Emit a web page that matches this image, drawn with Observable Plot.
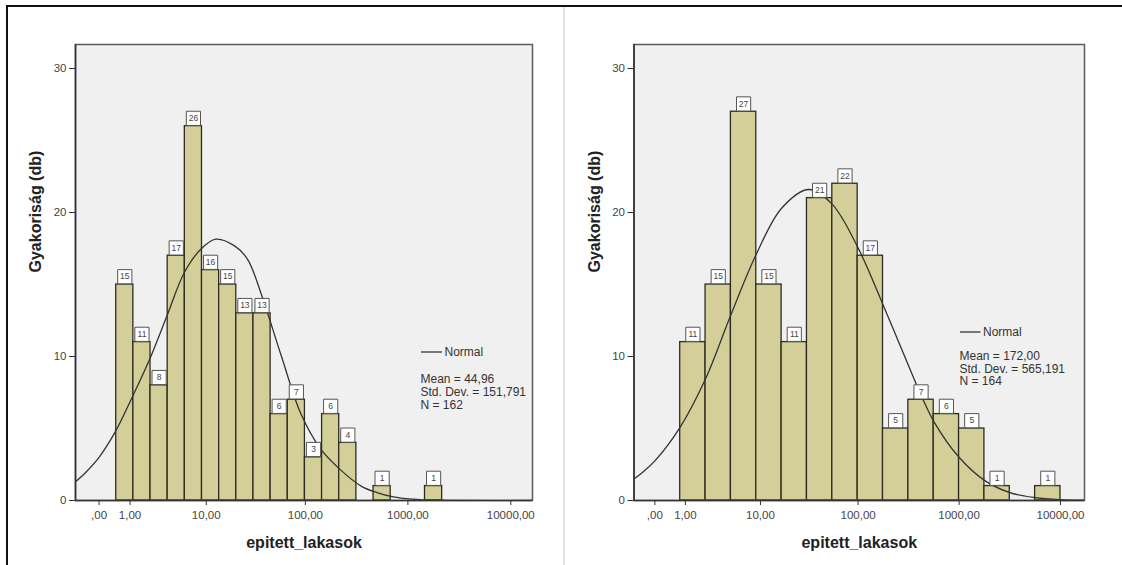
<!DOCTYPE html>
<html>
<head>
<meta charset="utf-8">
<script src="https://cdn.jsdelivr.net/npm/d3@7"></script>
<script src="https://cdn.jsdelivr.net/npm/@observablehq/plot@0.6"></script>
<style>
  html, body { margin: 0; padding: 0; background: #fff; }
  #wrap { position: relative; width: 1122px; height: 565px; overflow: hidden; font-family: "Liberation Sans", Arial, sans-serif; }
  .panel { position: absolute; top: 0; }
  #left { left: 0; }
  #right { left: 563px; }
  .btop { position: absolute; left: 6px; top: 5px; width: 1116px; height: 2px; background: #111; }
  .bleft { position: absolute; left: 6px; top: 5px; width: 2px; height: 560px; background: #111; }
  .sep { position: absolute; left: 563px; top: 7px; width: 2px; height: 558px; background: #e2e2e2; }
</style>
</head>
<body>
<div id="wrap">
  <div class="panel" id="left"></div>
  <div class="panel" id="right"></div>
  <div class="btop"></div>
  <div class="bleft"></div>
  <div class="sep"></div>
</div>
<script>
// ---- shared axis data ----
const xTickValues = [0, 1, 10, 100, 1000, 10000];
const xTickLabels = [",00", "1,00", "10,00", "100,00", "1000,00", "10000,00"];
const yTickValues = [0, 10, 20, 30];
const xTitle = "epitett_lakasok";
const yTitle = "Gyakoriság (db)";
const legendLabel = "Normal";

// ---- left histogram ----
const leftBinEdges = [0.468, 1.154, 2.162, 3.642, 5.813, 9, 13.68, 20.54, 30.62, 45.42, 67.13, 99, 145.8, 214.4, 315.2, 463.2, 680.3, 999, 1466.8, 2153.4];
const leftCounts = [15, 11, 8, 17, 26, 16, 15, 13, 13, 6, 7, 3, 6, 4, 0, 1, 0, 0, 1];
const leftCurveX = [-0.694, -0.35, 0, 0.445, 1.028, 2.055, 3.613, 5.70, 8.73, 12.61, 19.56, 26.73, 36.41, 57.6, 90.6, 140.3, 207.9, 350.6, 500, 723, 1095, 1994, 16255];
const leftCurveY = [1.3, 1.95, 3.0, 4.8, 6.95, 9.7, 12.9, 15.8, 17.45, 18.15, 17.7, 16.75, 14.4, 10.1, 6.0, 3.6, 2.3, 1.0, 0.55, 0.25, 0.1, 0.02, 0];
const leftStats = ["Mean = 44,96", "Std. Dev. = 151,791", "N = 162"];

// ---- right histogram ----
const rightBinEdges = [0.778, 2.162, 4.623, 9, 16.78, 30.62, 55.23, 99, 176.8, 315.2, 561.3, 999, 1777.3, 3161.3, 5622.4, 9999];
const rightCounts = [11, 15, 27, 15, 11, 21, 22, 17, 5, 7, 6, 5, 1, 0, 1];
const rightCurveX = [-0.606, -0.3, 0, 0.778, 2.162, 4.623, 9, 16.78, 31.89, 54.7, 99, 176.8, 315.2, 415.9, 561.3, 999, 1777, 3161, 5622, 9999, 17257];
const rightCurveY = [1.5, 2.0, 2.75, 5.1, 8.45, 12.9, 17.1, 20.3, 21.6, 20.6, 17.6, 13.6, 9.4, 7.4, 5.5, 3.0, 1.4, 0.55, 0.2, 0.06, 0.02];
const rightStats = ["Mean = 172,00", "Std. Dev. = 565,191", "N = 164"];

const FONT = "Liberation Sans, Arial, sans-serif";

function makePanel(cfg) {
  const bars = cfg.counts.map((c, i) => ({x1: cfg.edges[i], x2: cfg.edges[i + 1], c})).filter(d => d.c > 0);
  const mid = d => Math.sqrt((1 + d.x1) * (1 + d.x2)) - 1;
  const curve = cfg.curveX.map((x, i) => ({x, y: cfg.curveY[i]}));
  const plot = Plot.plot({
    width: cfg.width,
    height: 565,
    marginLeft: cfg.marginLeft,
    marginRight: cfg.marginRight,
    marginTop: 44,
    marginBottom: 65,
    style: {fontFamily: FONT, background: "transparent", overflow: "visible"},
    x: {type: "symlog", constant: 1, domain: cfg.domainX},
    y: {domain: [0, 31.67]},
    marks: [
      Plot.frame({fill: "#f0f0f0", stroke: "none"}),
      Plot.rectY(bars, {x1: "x1", x2: "x2", y1: 0, y2: "c", fill: "#d4cf98", stroke: "#2c2c22", strokeWidth: 1.3}),
      Plot.line(curve, {x: "x", y: "y", curve: "catmull-rom", stroke: "#333", strokeWidth: 1.3, clip: true}),
      Plot.dot(bars, {x: mid, y: "c", symbol: "square", r: 8, fill: "#fff", stroke: "#555", strokeWidth: 1, dy: -7.8}),
      Plot.text(bars, {x: mid, y: "c", text: d => String(d.c), dy: -7.8, fontSize: 8.5, fill: "#444"}),
      Plot.frame({stroke: "#5a5a5a", strokeWidth: 1.5}),
      Plot.ruleY([0], {stroke: "#333", strokeWidth: 1.6}),
      Plot.ruleX([cfg.domainX[0]], {stroke: "#333", strokeWidth: 1.6}),
      Plot.axisX({ticks: xTickValues, tickFormat: d => xTickLabels[xTickValues.indexOf(d)], tickSize: 5, tickPadding: 5, fontSize: 11.5, stroke: "#333", fill: "#444", label: null}),
      Plot.axisY({ticks: yTickValues, tickSize: 6, tickPadding: 3, fontSize: 11.5, stroke: "#333", fill: "#444", label: null}),
      Plot.text([xTitle], {frameAnchor: "bottom", dy: 47, fontSize: 16, fontWeight: "bold", fill: "#222"}),
      Plot.text([yTitle], {frameAnchor: "left", dx: -39.5, rotate: -90, fontSize: 16, fontWeight: "bold", fill: "#222"}),
      Plot.text([legendLabel], {frameAnchor: "top-left", dx: cfg.legend.textDx, dy: cfg.legend.normalDy, textAnchor: "start", lineAnchor: "middle", fontSize: 12, fill: "#333"}),
      Plot.text([cfg.stats.join("\n")], {frameAnchor: "top-left", dx: cfg.legend.statsDx, dy: cfg.legend.statsDy, textAnchor: "start", lineAnchor: "top", lineHeight: 1.05, fontSize: 12, fill: "#333"})
    ]
  });
  // legend line sample
  d3.select(plot).append("line")
    .attr("x1", cfg.marginLeft + cfg.legend.statsDx + 1)
    .attr("x2", cfg.marginLeft + cfg.legend.textDx - 2)
    .attr("y1", 44 + cfg.legend.normalDy)
    .attr("y2", 44 + cfg.legend.normalDy)
    .attr("stroke", "#333").attr("stroke-width", 1.3);
  return plot;
}

document.getElementById("left").appendChild(makePanel({
  edges: leftBinEdges, counts: leftCounts, curveX: leftCurveX, curveY: leftCurveY, stats: leftStats,
  width: 563, marginLeft: 75, marginRight: 31, domainX: [-0.694, 16255],
  legend: {textDx: 369, normalDy: 308, statsDx: 345, statsDy: 330}
}));
document.getElementById("right").appendChild(makePanel({
  edges: rightBinEdges, counts: rightCounts, curveX: rightCurveX, curveY: rightCurveY, stats: rightStats,
  width: 559, marginLeft: 70.5, marginRight: 38, domainX: [-0.606, 17257],
  legend: {textDx: 349, normalDy: 288, statsDx: 325.5, statsDy: 306.5}
}));
</script>
</body>
</html>
